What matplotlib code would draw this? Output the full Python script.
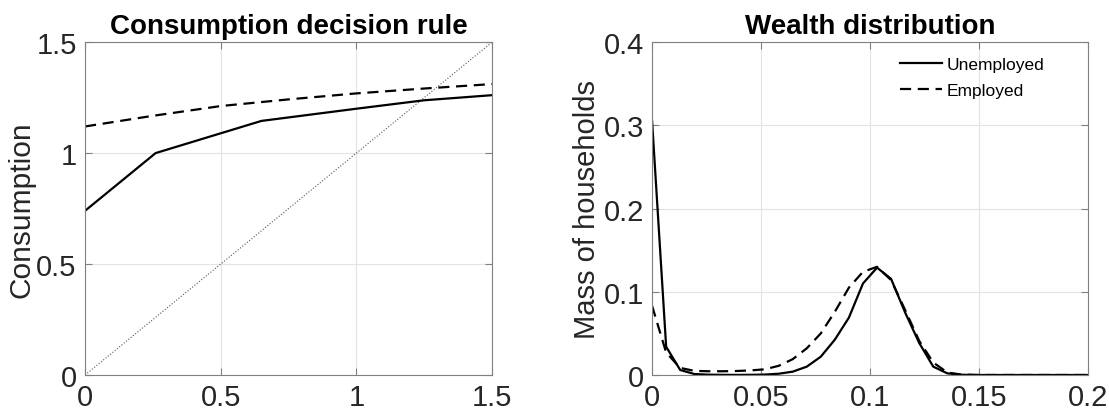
import numpy as np
import matplotlib
matplotlib.use("Agg")
import matplotlib.pyplot as plt

plt.rcParams['font.family'] = ['Liberation Sans', 'DejaVu Sans']

# Consumption decision rule (left panel)
assets_u = [0.0, 0.26, 0.65, 1.0, 1.25, 1.5]
cons_u = [0.74, 1.0, 1.145, 1.20, 1.238, 1.261]
assets_e = [0.0, 0.25, 0.5, 0.75, 1.0, 1.25, 1.5]
cons_e = [1.12, 1.168, 1.212, 1.242, 1.269, 1.291, 1.311]

# Wealth distribution (right panel), 32 grid points on [0, 0.2]
wealth_grid = np.linspace(0, 0.2, 32)
mass_u = [0.305, 0.034, 0.006, 0.0012, 0.0004, 0.0002, 0.0001, 0.0002,
          0.0005, 0.0015, 0.004, 0.010, 0.022, 0.0425, 0.069, 0.110,
          0.129, 0.1155, 0.075, 0.0385, 0.010, 0.002, 0.0003, 0.0,
          0.0, 0.0, 0.0, 0.0, 0.0, 0.0, 0.0, 0.0]
mass_e = [0.083, 0.027, 0.0085, 0.005, 0.0045, 0.0045, 0.0048, 0.0055,
          0.0068, 0.011, 0.019, 0.032, 0.050, 0.076, 0.105, 0.124,
          0.130, 0.114, 0.078, 0.041, 0.015, 0.003, 0.0005, 0.0001,
          0.0, 0.0, 0.0, 0.0, 0.0, 0.0, 0.0, 0.0]

fig = plt.figure(figsize=(11.09, 4.14), dpi=100)
ax1 = fig.add_axes([0.0767, 0.0918, 0.367, 0.804])
ax2 = fig.add_axes([0.588, 0.0918, 0.393, 0.804])

tick_col = '#262626'
for ax in (ax1, ax2):
    ax.grid(True, color='#e3e3e3', linewidth=0.8)
    ax.set_axisbelow(True)
    ax.tick_params(direction='in', top=True, right=True, length=5,
                   labelsize=21, colors='#808080', labelcolor=tick_col, pad=6)
    for s in ax.spines.values():
        s.set_color('#808080')
        s.set_linewidth(0.8)

# left panel
ax1.plot([0, 1.5], [0, 1.5], linestyle=':', color='#555555', linewidth=0.8)
ax1.plot(assets_u, cons_u, color='black', linewidth=1.6)
ax1.plot(assets_e, cons_e, color='black', linewidth=1.6, linestyle='--',
         dashes=(5, 3))
ax1.set_xlim(0, 1.5)
ax1.set_ylim(0, 1.5)
ax1.set_xticks([0, 0.5, 1, 1.5])
ax1.set_xticklabels(['0', '0.5', '1', '1.5'])
ax1.set_yticks([0, 0.5, 1, 1.5])
ax1.set_yticklabels(['0', '0.5', '1', '1.5'])
ax1.set_ylabel('Consumption', fontsize=21.5, color=tick_col, labelpad=0.5)
ax1.set_title('Consumption decision rule', fontsize=20, fontweight='bold', pad=6.5)

# right panel
ax2.plot(wealth_grid, mass_u, color='black', linewidth=1.6, label='Unemployed')
ax2.plot(wealth_grid, mass_e, color='black', linewidth=1.6, linestyle='--',
         dashes=(5, 3), label='Employed')
ax2.set_xlim(0, 0.2)
ax2.set_ylim(0, 0.4)
ax2.set_xticks([0, 0.05, 0.1, 0.15, 0.2])
ax2.set_xticklabels(['0', '0.05', '0.1', '0.15', '0.2'])
ax2.set_yticks([0, 0.1, 0.2, 0.3, 0.4])
ax2.set_yticklabels(['0', '0.1', '0.2', '0.3', '0.4'])
ax2.set_ylabel('Mass of households', fontsize=21, color=tick_col, labelpad=2)
ax2.set_title('Wealth distribution', fontsize=20, fontweight='bold', pad=6.5)
ax2.legend(loc='upper right', bbox_to_anchor=(0.907, 0.967), frameon=False,
           fontsize=12.5, handlelength=2.4, handletextpad=0.25,
           labelspacing=0.65, borderpad=0.2, borderaxespad=0)

fig.savefig('out.png', dpi=100)
